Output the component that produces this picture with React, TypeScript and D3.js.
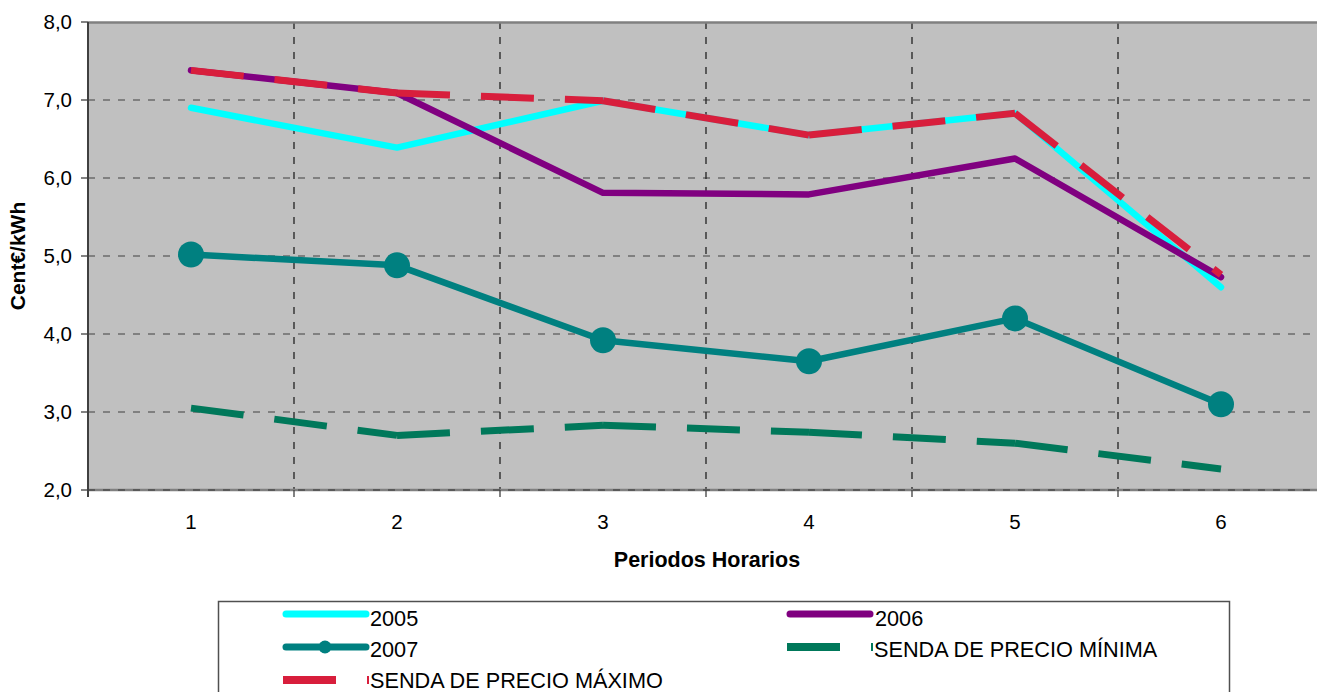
import React from "react";
import * as d3 from "d3";

const categories = ["1", "2", "3", "4", "5", "6"];
const yTicks = [2, 3, 4, 5, 6, 7, 8];
const s2005 = [6.9, 6.39, 6.99, 6.55, 6.83, 4.6];
const s2006 = [7.38, 7.09, 5.81, 5.79, 6.25, 4.73];
const s2007 = [5.02, 4.88, 3.92, 3.65, 4.2, 3.1];
const sMin = [3.05, 2.7, 2.83, 2.74, 2.6, 2.27];
const sMax = [7.38, 7.09, 6.99, 6.55, 6.83, 4.76];

const W = 1317;
const H = 692;
const left = 88;
const top = 22;
const bottom = 490;
const right = 1324;
const FONT = "Arial, 'Liberation Sans', sans-serif";

type Series = { name: string; values: number[]; color: string; dashed: boolean; marker: boolean };
const series: Series[] = [
  { name: "2005", values: s2005, color: "#00FFFF", dashed: false, marker: false },
  { name: "2006", values: s2006, color: "#800080", dashed: false, marker: false },
  { name: "2007", values: s2007, color: "#008080", dashed: false, marker: true },
  { name: "SENDA DE PRECIO MÍNIMA", values: sMin, color: "#00785A", dashed: true, marker: false },
  { name: "SENDA DE PRECIO MÁXIMO", values: sMax, color: "#D81E3C", dashed: true, marker: false },
];

const DASH = "53,31";

export default function App() {
  const x = d3.scaleBand<string>().domain(categories).range([left, right]).padding(0);
  const y = d3.scaleLinear().domain([2, 8]).range([bottom, top]);
  const cx = (c: string) => (x(c) as number) + x.bandwidth() / 2;
  const line = d3
    .line<[number, number]>()
    .x((d) => d[0])
    .y((d) => d[1]);

  const boundaries = categories.map((c) => x(c) as number).concat([right]);

  const legendItems = [
    { s: series[0], lx: 283, ly: 614, tx: 370, ty: 626 },
    { s: series[1], lx: 787, ly: 614, tx: 875, ty: 626 },
    { s: series[2], lx: 283, ly: 647, tx: 370, ty: 657 },
    { s: series[3], lx: 787, ly: 647, tx: 874, ty: 657 },
    { s: series[4], lx: 283, ly: 680, tx: 370, ty: 688 },
  ];

  return (
    <svg
      width={W}
      height={H}
      style={{ position: "absolute", left: 0, top: 0, background: "#fff" }}
      fontFamily={FONT}
    >
      {/* plot background */}
      <rect x={left} y={top} width={right - left} height={bottom - top} fill="#C0C0C0" />
      {/* horizontal gridlines */}
      {yTicks.slice(1, -1).map((t) => (
        <line key={"h" + t} x1={left} x2={right} y1={y(t)} y2={y(t)} stroke="#404040" strokeWidth={1.2} strokeDasharray="7,8" />
      ))}
      {/* vertical gridlines */}
      {boundaries.slice(1, -1).map((b, i) => (
        <line key={"v" + i} x1={b} x2={b} y1={top} y2={bottom} stroke="#222" strokeWidth={1.3} strokeDasharray="7,8" />
      ))}
      {/* top border */}
      <line x1={left} x2={right} y1={top + 0.5} y2={top + 0.5} stroke="#808080" strokeWidth={2.5} />
      {/* x axis */}
      <line x1={left} x2={right} y1={bottom} y2={bottom} stroke="#808080" strokeWidth={2.5} />
      <line x1={left} x2={right} y1={bottom} y2={bottom} stroke="#333" strokeWidth={1.2} strokeDasharray="7,8" />
      {boundaries.map((b, i) => (
        <line key={"xt" + i} x1={b} x2={b} y1={bottom} y2={bottom + 7} stroke="#404040" strokeWidth={1.3} />
      ))}
      {/* y axis */}
      <line x1={left} x2={left} y1={top} y2={bottom + 7} stroke="#404040" strokeWidth={2} />
      {yTicks.map((t) => (
        <g key={"yt" + t}>
          <line x1={left - 7} x2={left} y1={y(t)} y2={y(t)} stroke="#404040" strokeWidth={1.3} />
          <text x={72} y={y(t)} dy="0.36em" textAnchor="end" fontSize={20.5} fill="#000">
            {d3.format(".1f")(t).replace(".", ",")}
          </text>
        </g>
      ))}
      {categories.map((c) => (
        <text key={"xl" + c} x={cx(c)} y={529} textAnchor="middle" fontSize={20.5} fill="#000">
          {c}
        </text>
      ))}
      {/* axis titles */}
      <text x={707} y={567} textAnchor="middle" fontSize={21.5} fontWeight="bold" fill="#000">
        Periodos Horarios
      </text>
      <text
        transform={`translate(25,256) rotate(-90)`}
        textAnchor="middle"
        fontSize={21}
        fontWeight="bold"
        fill="#000"
      >
        Cent€/kWh
      </text>

      {/* series */}
      <g>
        {series.map((s) => {
          const pts: [number, number][] = s.values.map((v, i) => [cx(categories[i]), y(v)]);
          if (s.dashed) {
            return (
              <g key={s.name}>
                {pts.slice(1).map((p, i) => (
                  <path
                    key={i}
                    d={line([pts[i], p]) as string}
                    fill="none"
                    stroke={s.color}
                    strokeWidth={7}
                    strokeDasharray={DASH}
                    strokeLinecap="butt"
                  />
                ))}
              </g>
            );
          }
          return (
            <g key={s.name}>
              <path
                d={line(pts) as string}
                fill="none"
                stroke={s.color}
                strokeWidth={6.5}
                strokeLinejoin="round"
                strokeLinecap="round"
              />
              {s.marker &&
                pts.map((p, i) => <circle key={i} cx={p[0]} cy={p[1]} r={13} fill={s.color} />)}
            </g>
          );
        })}
      </g>

      {/* legend */}
      <rect x={218.5} y={601.5} width={1011} height={120} fill="#fff" stroke="#505050" strokeWidth={1.5} />
      {legendItems.map(({ s, lx, ly, tx, ty }) => (
        <g key={"lg" + s.name}>
          {s.dashed ? (
            <line x1={lx} x2={lx + 86} y1={ly} y2={ly} stroke={s.color} strokeWidth={8} strokeDasharray={DASH} />
          ) : (
            <line x1={lx + 3} x2={lx + 83} y1={ly} y2={ly} stroke={s.color} strokeWidth={7} strokeLinecap="round" />
          )}
          {s.marker && <circle cx={lx + 42} cy={ly} r={6.5} fill={s.color} />}
          <text x={tx} y={ty} fontSize={21.7} fill="#000">
            {s.name}
          </text>
        </g>
      ))}
    </svg>
  );
}
